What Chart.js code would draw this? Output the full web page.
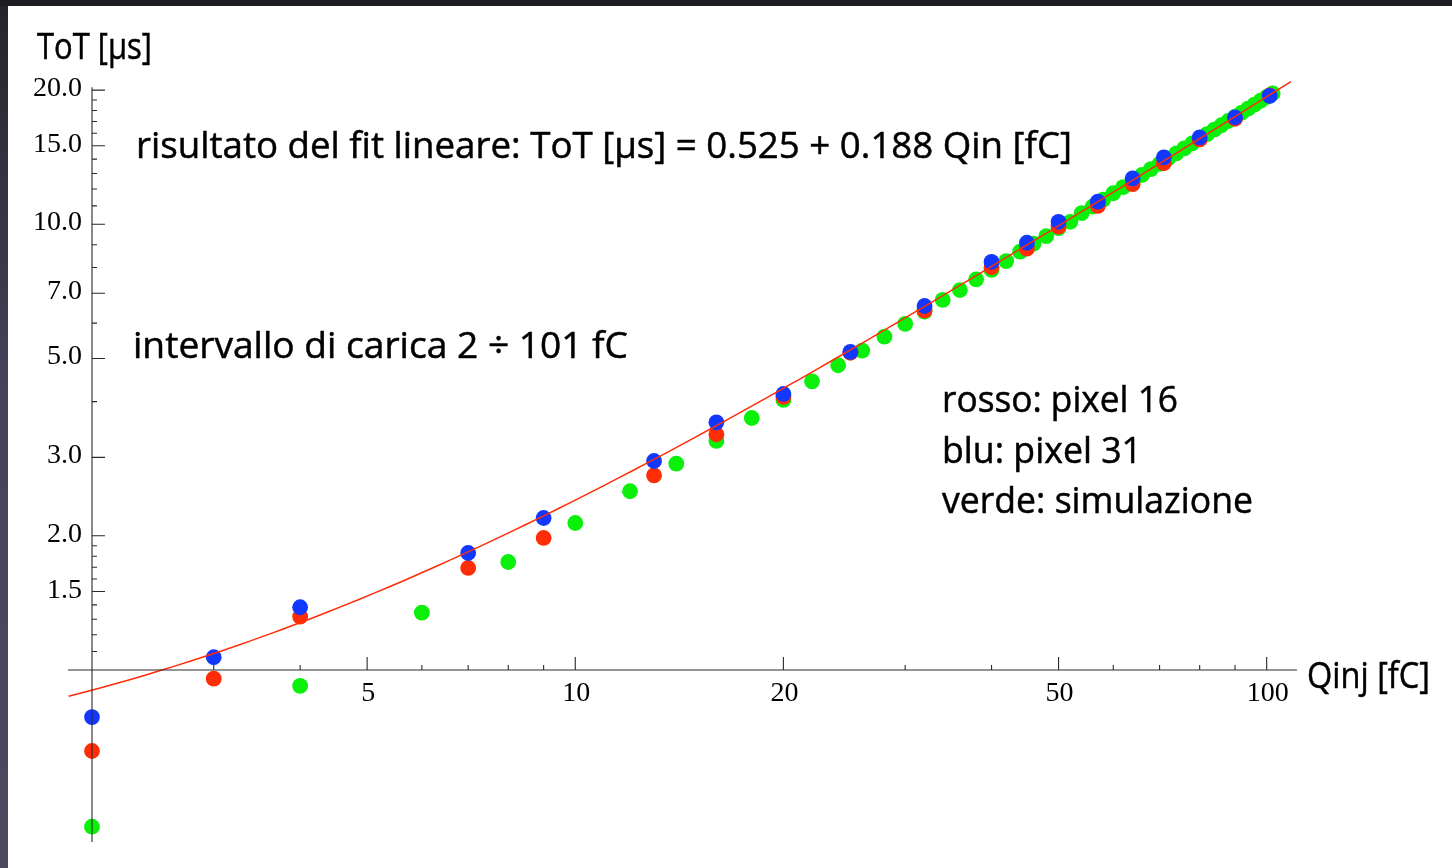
<!DOCTYPE html>
<html><head><meta charset="utf-8">
<script src="https://cdn.jsdelivr.net/npm/chart.js@4"></script>
<style>
html,body{margin:0;padding:0;background:#fff;overflow:hidden}
#wrap{position:relative;width:1452px;height:868px;background:#fff}
canvas{position:absolute;left:0;top:0}
.frameL{position:absolute;left:0;top:0;width:8px;height:868px;background:linear-gradient(#25242b,#44435a 45%,#4a495e);z-index:2}
.frameT{position:absolute;left:0;top:0;width:1452px;height:6px;background:#1d1c22;z-index:2}
</style></head><body>
<div id="wrap"><canvas id="c" width="1452" height="868"></canvas><div class="frameL"></div><div class="frameT"></div></div>
<script>
// ---- data ----
const qMeasured = [2, 3, 4, 7, 9, 13, 16, 20, 25, 32, 40, 45, 50, 57, 64, 71, 80, 90, 101];
const totPixel16 = [0.658, 0.956, 1.317, 1.694, 1.978, 2.734, 3.38, 4.10, 5.15, 6.40, 8.01, 8.816, 9.88, 11.0, 12.31, 13.71, 15.5, 17.25, 19.45]; // rosso
const totPixel31 = [0.784, 1.068, 1.383, 1.83, 2.193, 2.944, 3.595, 4.162, 5.171, 6.556, 8.232, 9.09, 10.13, 11.24, 12.68, 14.13, 15.67, 17.38, 19.41]; // blu
const qSim = [2, 4, 6, 8, 10, 12, 14, 16, 18, 20, 22, 24, 26, 28, 30, 32, 34, 36, 38, 40, 42, 44, 46, 48, 50, 52, 54, 56, 58, 60, 62, 64, 66, 68, 70, 72, 74, 76, 78, 80, 82, 84, 86, 88, 90, 92, 94, 96, 98, 100, 102];
const totSim = [0.445, 0.921, 1.345, 1.747, 2.137, 2.518, 2.903, 3.265, 3.676, 4.035, 4.443, 4.827, 5.205, 5.595, 5.98, 6.37, 6.765, 7.12, 7.525, 7.90, 8.27, 8.68, 9.05, 9.41, 9.80, 10.13, 10.59, 10.95, 11.35, 11.74, 12.12, 12.50, 12.90, 13.30, 13.66, 14.05, 14.42, 14.80, 15.18, 15.55, 15.93, 16.30, 16.68, 17.05, 17.43, 17.80, 18.18, 18.55, 18.93, 19.30, 19.66]; // verde
// fit stated on the chart: ToT = 0.525 + 0.188 Qin
const FIT_A = 0.525, FIT_B = 0.188;
const FIT_Q_FROM = 1.85, FIT_Q_TO = 108.4;

const xTickValues = [5, 10, 20, 50, 100];
const xTickLabels = ['5', '10', '20', '50', '100'];
const xMinorTicks = [3, 4, 6, 7, 8, 9, 30, 40, 60, 70, 80, 90];
const yTickValues = [1.5, 2, 3, 5, 7, 10, 15, 20];
const yTickLabels = ['1.5', '2.0', '3.0', '5.0', '7.0', '10.0', '15.0', '20.0'];
const yMinorTicks = [1.1, 1.2, 1.3, 1.4, 1.6, 1.7, 1.8, 1.9, 4, 6, 8, 9, 11, 12, 13, 14, 16, 17, 18, 19];

// axis crossing and extents (data units)
const X_AXIS_AT_Y = 1.0, X_AXIS_FROM = 1.846, X_AXIS_TO = 110.6;
const Y_AXIS_AT_X = 2.0, Y_AXIS_FROM = 0.411, Y_AXIS_TO = 20.3;

const xTitle = 'Qinj [fC]';
const yTitle = 'ToT [µs]';
const fitText = 'risultato del fit lineare: ToT [µs] = 0.525 + 0.188 Qin [fC]';
const rangeText = 'intervallo di carica 2 ÷ 101 fC';
const legendLines = ['rosso: pixel 16', 'blu: pixel 31', 'verde: simulazione'];

// ---- build datasets ----
const toXY = (xs, ys) => xs.map((x, i) => ({x: x, y: ys[i]}));
const fitPts = [];
for (let i = 0; i <= 80; i++) {
  const q = FIT_Q_FROM * Math.pow(FIT_Q_TO / FIT_Q_FROM, i / 80);
  fitPts.push({x: q, y: FIT_A + FIT_B * q});
}
const RED = 'rgb(255,44,8)', BLUE = 'rgb(18,55,255)', GREEN = 'rgb(10,240,10)';

const SANS = '"Open Sans", "Noto Sans", sans-serif';
const SERIF = '"Liberation Serif", "DejaVu Serif", serif';

function fitText_(ctx, txt, x, base, w, size, family) {
  ctx.save();
  ctx.font = size + 'px ' + family;
  ctx.textAlign = 'left'; ctx.textBaseline = 'alphabetic';
  const m = ctx.measureText(txt).width;
  ctx.translate(x, base);
  ctx.scale(w / m, 1);
  ctx.fillText(txt, 0, 0);
  ctx.lineWidth = 0.5; ctx.strokeStyle = '#000';
  ctx.strokeText(txt, 0, 0);
  ctx.restore();
}

const axesPlugin = {
  id: 'axesPlugin',
  afterDatasetsDraw(chart) {
    const ctx = chart.ctx, xs = chart.scales.x, ys = chart.scales.y;
    const x0 = xs.getPixelForValue(Y_AXIS_AT_X);
    const y0 = ys.getPixelForValue(X_AXIS_AT_Y);
    ctx.save();
    ctx.strokeStyle = '#2a2a2a'; ctx.lineWidth = 1.1;
    ctx.beginPath();
    ctx.moveTo(xs.getPixelForValue(X_AXIS_FROM), y0); ctx.lineTo(xs.getPixelForValue(X_AXIS_TO), y0);
    ctx.moveTo(x0, ys.getPixelForValue(Y_AXIS_FROM)); ctx.lineTo(x0, ys.getPixelForValue(Y_AXIS_TO));
    // x ticks (pointing up)
    xTickValues.forEach(v => { const p = xs.getPixelForValue(v); ctx.moveTo(p, y0); ctx.lineTo(p, y0 - 13); });
    xMinorTicks.forEach(v => { const p = xs.getPixelForValue(v); ctx.moveTo(p, y0); ctx.lineTo(p, y0 - 5); });
    // y ticks (pointing right)
    yTickValues.forEach(v => { const p = ys.getPixelForValue(v); ctx.moveTo(x0, p); ctx.lineTo(x0 + 13, p); });
    yMinorTicks.forEach(v => { const p = ys.getPixelForValue(v); ctx.moveTo(x0, p); ctx.lineTo(x0 + 5, p); });
    ctx.stroke();
    // tick labels
    ctx.fillStyle = '#000';
    ctx.font = '28px ' + SERIF;
    ctx.textBaseline = 'alphabetic';
    ctx.textAlign = 'center';
    xTickValues.forEach((v, i) => { ctx.fillText(xTickLabels[i], xs.getPixelForValue(v) + 1, y0 + 31); });
    ctx.textAlign = 'right';
    yTickValues.forEach((v, i) => { ctx.fillText(yTickLabels[i], x0 - 10, ys.getPixelForValue(v) + 6); });
    ctx.restore();
    // titles & annotations
    ctx.save();
    ctx.fillStyle = '#000';
    fitText_(ctx, yTitle, 37, 59, 115, 37, SANS);
    fitText_(ctx, xTitle, 1307, 688, 123, 37, SANS);
    fitText_(ctx, fitText, 136, 158, 936, 37, SANS);
    fitText_(ctx, rangeText, 133, 358, 495, 37, SANS);
    fitText_(ctx, legendLines[0], 942, 412, 236, 37, SANS);
    fitText_(ctx, legendLines[1], 942, 463, 200, 37, SANS);
    fitText_(ctx, legendLines[2], 942, 513, 311, 37, SANS);
    ctx.restore();
  }
};

new Chart(document.getElementById('c'), {
  type: 'scatter',
  data: {
    datasets: [
      {label: 'fit', data: fitPts, showLine: true, borderColor: RED, borderWidth: 1.5, pointRadius: 0, tension: 0, order: 0},
      {label: 'blu: pixel 31', data: toXY(qMeasured, totPixel31), backgroundColor: BLUE, borderWidth: 0, pointRadius: 7.9, order: 1},
      {label: 'rosso: pixel 16', data: toXY(qMeasured, totPixel16), backgroundColor: RED, borderWidth: 0, pointRadius: 7.9, order: 2},
      {label: 'verde: simulazione', data: toXY(qSim, totSim), backgroundColor: GREEN, borderWidth: 0, pointRadius: 7.9, order: 3}
    ]
  },
  options: {
    responsive: false,
    animation: false,
    devicePixelRatio: 1,
    layout: {padding: {left: 60.36, right: 156.7, top: 71.66, bottom: 20.64}},
    plugins: {legend: {display: false}, tooltip: {enabled: false}},
    scales: {
      x: {type: 'logarithmic', min: 1.8, max: 110, bounds: 'data', display: false},
      y: {type: 'logarithmic', min: 0.4, max: 22, bounds: 'data', display: false}
    }
  },
  plugins: [axesPlugin]
});
</script>
</body></html>
